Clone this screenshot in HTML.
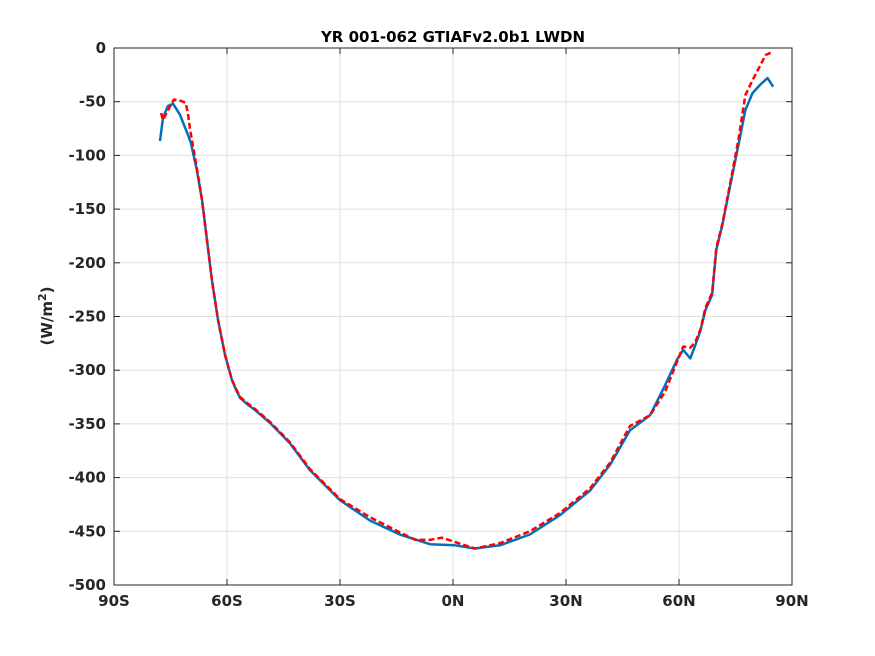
<!DOCTYPE html>
<html><head><meta charset="utf-8">
<style>
body{margin:0;background:#fff;}
svg{display:block;font-family:"DejaVu Sans","Liberation Sans",sans-serif;}
</style></head>
<body>
<svg id="chart" width="875" height="656" viewBox="0 0 875 656">
<rect width="875" height="656" fill="#fff"/>
<g id="grid"></g>
<g id="series"></g>
<rect x="114" y="48" width="678" height="537" fill="none" stroke="#262626" stroke-width="1"/>
<g id="ticks"></g>
<text x="453" y="42" text-anchor="middle" font-size="15" font-weight="bold" fill="#000">YR 001-062 GTIAFv2.0b1 LWDN</text>
<text transform="translate(52,316) rotate(-90)" text-anchor="middle" font-size="15" font-weight="bold" fill="#262626">(W/m<tspan dy="-6" font-size="11">2</tspan><tspan dy="6">)</tspan></text>
</svg>
<script>
const xTicks=[-90,-60,-30,0,30,60,90];
const xTickLabels=["90S","60S","30S","0N","30N","60N","90N"];
const yTicks=[0,-50,-100,-150,-200,-250,-300,-350,-400,-450,-500];
const blueLat=[-77.8,-77,-75.7,-74.3,-72.5,-70.9,-69.6,-68,-66.6,-65.3,-64,-62.4,-60.5,-58.7,-57.5,-56.5,-54.5,-52.6,-48.6,-43.3,-38,-30,-22,-14.1,-6.1,0.5,5.8,12.5,20.4,28.4,36.4,41.7,47,52.3,56.3,59.5,61.1,63,64.3,65.7,67,68.8,69.9,71.5,73.6,75.8,77.6,79.5,81.6,83.5,85];
const blueVal=[-86.6,-65,-54,-52,-62,-76,-88,-114,-142,-179,-216,-253,-286,-309,-319,-326,-332,-337,-349,-368,-393,-421,-440,-453,-462,-463,-466,-463,-453,-435,-412,-388,-356,-342,-314,-290,-281,-289,-277,-263,-244,-230,-188,-165,-128,-90,-58,-42,-34,-28,-36];
const redLat=[-77.5,-77,-75.7,-74.1,-72.5,-71,-70.4,-69.8,-68,-66.6,-65.3,-64,-62.4,-60.5,-58.7,-57.5,-56.5,-54.5,-52.6,-48.6,-43.3,-38,-30,-22,-14.1,-10,-6.1,-3,0.5,5.8,12.5,20.4,28.4,36.4,41.7,47,52.3,56.3,59.5,61.1,63,64.3,65.7,67,68.8,69.9,71.5,73.6,75.8,77.6,79.5,81.6,83,84.6];
const redVal=[-60.5,-67,-58,-48,-49,-51,-60,-76,-112,-142,-179,-216,-253,-286,-309,-318,-325,-331,-336,-348,-367,-392,-420,-437,-451,-458,-458,-456,-460,-466,-461,-450,-433,-410,-386,-352,-342,-320,-292,-278,-279,-274,-262,-242,-228,-186,-164,-126,-85,-44,-30,-16,-6.5,-4];
const X0=114,X1=792,Y0=48,Y1=585;
const sx=v=>X0+(v+90)/180*(X1-X0);
const sy=v=>Y0+(0-v)/500*(Y1-Y0);
const NS="http://www.w3.org/2000/svg";
const grid=document.getElementById('grid'),ticks=document.getElementById('ticks'),ser=document.getElementById('series');
function mk(tag,attrs,parent){const e=document.createElementNS(NS,tag);for(const k in attrs)e.setAttribute(k,attrs[k]);parent.appendChild(e);return e;}
xTicks.forEach((t,i)=>{
  const x=sx(t);
  if(i>0&&i<xTicks.length-1){const g=mk('line',{x1:x,x2:x,y1:Y0,y2:Y1,stroke:'#e0e0e0','stroke-width':1},grid);
  
  }
  mk('line',{x1:x,x2:x,y1:Y1,y2:Y1-6,stroke:'#262626'},ticks);
  mk('line',{x1:x,x2:x,y1:Y0,y2:Y0+6,stroke:'#262626'},ticks);
  const tx=mk('text',{x:x,y:Y1+21,'text-anchor':'middle','font-size':15,'font-weight':'bold',fill:'#262626'},ticks);
  tx.textContent=xTickLabels[i];
  
  
});
yTicks.forEach((t,i)=>{
  const y=sy(t);
  if(i>0&&i<yTicks.length-1){const g=mk('line',{x1:X0,x2:X1,y1:y,y2:y,stroke:'#e0e0e0','stroke-width':1},grid);
  
  }
  mk('line',{x1:X0,x2:X0+6,y1:y,y2:y,stroke:'#262626'},ticks);
  mk('line',{x1:X1,x2:X1-6,y1:y,y2:y,stroke:'#262626'},ticks);
  const tx=mk('text',{x:X0-8,y:y+5,'text-anchor':'end','font-size':15,'font-weight':'bold',fill:'#262626'},ticks);
  tx.textContent=String(t);
  
  
});
function pts(la,va){return la.map((l,i)=>sx(l).toFixed(1)+','+sy(va[i]).toFixed(1)).join(' ');}
const b=mk('polyline',{points:pts(blueLat,blueVal),fill:'none',stroke:'#0072bd','stroke-width':2.5,'stroke-linejoin':'round'},ser);


const r=mk('polyline',{points:pts(redLat,redVal),fill:'none',stroke:'#ff0000','stroke-width':2.5,'stroke-dasharray':'6,3','stroke-linejoin':'round'},ser);


</script>
</body></html>
